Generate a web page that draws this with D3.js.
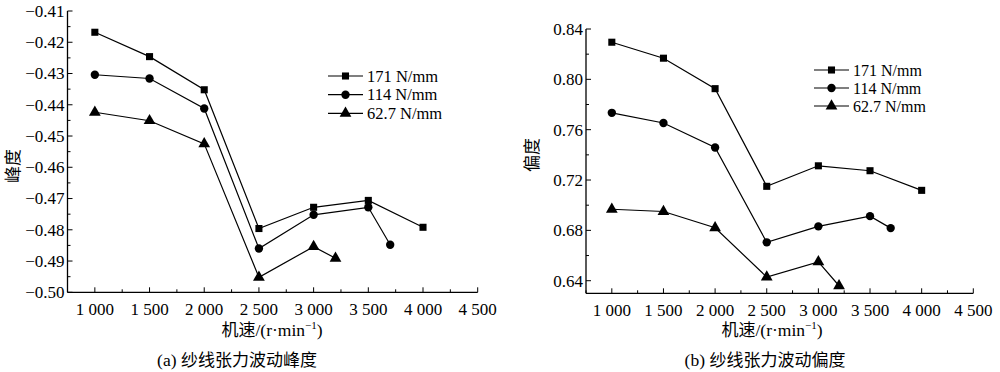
<!DOCTYPE html>
<html>
<head>
<meta charset="utf-8">
<script src="https://cdn.jsdelivr.net/npm/d3@7"></script>
<style>
  body { margin: 0; background: #fff; }
  text { font-family: "Liberation Serif", "Times New Roman", serif; }
  .cjk { font-family: "Noto Sans CJK SC", sans-serif; }
</style>
</head>
<body>
<div id="chart"></div>
<script>
// speeds (r/min) and series names
var seriesNames = ["171 N/mm", "114 N/mm", "62.7 N/mm"];
var xTicks = [1000, 1500, 2000, 2500, 3000, 3500, 4000, 4500];

// (a) kurtosis
var kurtX = [
  [1000, 1500, 2000, 2500, 3000, 3500, 4000],
  [1000, 1500, 2000, 2500, 3000, 3500, 3700],
  [1000, 1500, 2000, 2500, 3000, 3200]
];
var kurtY = [
  [-0.4168, -0.4246, -0.4352, -0.4796, -0.4728, -0.4706, -0.4792],
  [-0.4304, -0.4316, -0.4412, -0.4860, -0.4752, -0.4728, -0.4848],
  [-0.4424, -0.4451, -0.4525, -0.4952, -0.4854, -0.4891]
];
var kurtTicks = [-0.50, -0.49, -0.48, -0.47, -0.46, -0.45, -0.44, -0.43, -0.42, -0.41];

// (b) skewness
var skewX = kurtX;
var skewY = [
  [0.8295, 0.8168, 0.7926, 0.7150, 0.7313, 0.7274, 0.7118],
  [0.7734, 0.7653, 0.7458, 0.6705, 0.6832, 0.6913, 0.6818],
  [0.6968, 0.6950, 0.6821, 0.6429, 0.6550, 0.6360]
];
var skewTicks = [0.64, 0.68, 0.72, 0.76, 0.80, 0.84];

var svg = d3.select("#chart").append("svg")
  .attr("width", 1000)
  .attr("height", 372);

var symbols = [d3.symbolSquare, d3.symbolCircle, d3.symbolTriangle];
var symSize = [50, 55, 60];

function fmtX(d) {
  var s = String(d);
  return s.slice(0, s.length - 3) + " " + s.slice(-3);
}

function drawPanel(p) {
  var g = svg.append("g");

  var x = d3.scaleLinear().domain([750, 4500]).range([p.left, p.right]);
  var y = d3.scaleLinear().domain(p.yDomain).range([p.bottom, p.top]);

  // x axis, ticks pointing inward
  g.append("line")
    .attr("x1", p.left).attr("x2", p.right)
    .attr("y1", p.bottom).attr("y2", p.bottom)
    .attr("stroke", "#000").attr("stroke-width", 1.3);
  xTicks.forEach(function(t) {
    g.append("line")
      .attr("x1", x(t)).attr("x2", x(t))
      .attr("y1", p.bottom).attr("y2", p.bottom - 5)
      .attr("stroke", "#000");
    g.append("line")
      .attr("x1", x(t - 250)).attr("x2", x(t - 250))
      .attr("y1", p.bottom).attr("y2", p.bottom - 3)
      .attr("stroke", "#000");
    g.append("text")
      .attr("x", x(t)).attr("y", p.bottom + 23)
      .attr("text-anchor", "middle")
      .attr("font-size", 17)
      .text(fmtX(t));
  });

  // y axis
  g.append("line")
    .attr("x1", p.left).attr("x2", p.left)
    .attr("y1", y(p.yDomain[1])).attr("y2", p.bottom)
    .attr("stroke", "#000").attr("stroke-width", 1.3);
  p.yTicks.forEach(function(t, i) {
    g.append("line")
      .attr("x1", p.left).attr("x2", p.left + 5)
      .attr("y1", y(t)).attr("y2", y(t))
      .attr("stroke", "#000");
    if (i > 0) {
      var m = (t + p.yTicks[i - 1]) / 2;
      g.append("line")
        .attr("x1", p.left).attr("x2", p.left + 3)
        .attr("y1", y(m)).attr("y2", y(m))
        .attr("stroke", "#000");
    }
    g.append("text")
      .attr("x", p.left - 3).attr("y", y(t))
      .attr("dy", "0.35em")
      .attr("text-anchor", "end")
      .attr("font-size", 17)
      .text(p.yFmt(t));
  });
  if (p.extraMinor) {
    var mm = p.yTicks[0] - (p.yTicks[1] - p.yTicks[0]) / 2;
    if (mm >= p.yDomain[0]) {
      g.append("line")
        .attr("x1", p.left).attr("x2", p.left + 3)
        .attr("y1", y(mm)).attr("y2", y(mm))
        .attr("stroke", "#000");
    }
  }

  // series
  var line = d3.line()
    .x(function(d) { return x(d[0]); })
    .y(function(d) { return y(d[1]); });

  p.xs.forEach(function(xs, s) {
    var pts = xs.map(function(v, i) { return [v, p.ys[s][i]]; });
    g.append("path")
      .datum(pts)
      .attr("fill", "none")
      .attr("stroke", "#000")
      .attr("stroke-width", 1.2)
      .attr("d", line);
    g.selectAll(null)
      .data(pts)
      .enter()
      .append("path")
      .attr("transform", function(d) { return "translate(" + x(d[0]) + "," + y(d[1]) + ")"; })
      .attr("d", d3.symbol().type(symbols[s]).size(symSize[s]))
      .attr("fill", "#000");
  });

  // legend
  seriesNames.forEach(function(name, s) {
    var ly = p.legY + s * p.legDy;
    g.append("line")
      .attr("x1", p.legX).attr("x2", p.legX + 35)
      .attr("y1", ly).attr("y2", ly)
      .attr("stroke", "#000").attr("stroke-width", 1.2);
    g.append("path")
      .attr("transform", "translate(" + (p.legX + 17.5) + "," + ly + ")")
      .attr("d", d3.symbol().type(symbols[s]).size(symSize[s]))
      .attr("fill", "#000");
    g.append("text")
      .attr("x", p.legX + 39).attr("y", ly)
      .attr("dy", "0.35em")
      .attr("font-size", p.legFont)
      .text(name);
  });

  // axis titles
  g.append("text")
    .attr("transform", "translate(" + p.yLabX + "," + p.yLabY + ")rotate(-90)")
    .attr("text-anchor", "middle")
    .attr("class", "cjk")
    .attr("font-size", 17)
    .text(p.yLabel);

  var xl = g.append("text")
    .attr("x", p.xLabX).attr("y", 336)
    .attr("text-anchor", "middle")
    .attr("font-size", 17.5);
  xl.append("tspan").attr("class", "cjk").attr("font-size", 17).text("机速");
  xl.append("tspan").text("/(r·min");
  xl.append("tspan").attr("font-size", 11).attr("dy", -7).text("−1");
  xl.append("tspan").attr("dy", 7).text(")");

  var cap = g.append("text")
    .attr("x", p.capX).attr("y", 366)
    .attr("text-anchor", "middle")
    .attr("font-size", 17.5);
  cap.append("tspan").text(p.capTag + " ");
  cap.append("tspan").attr("class", "cjk").attr("font-size", 17).text(p.caption);
}

drawPanel({
  left: 67.5, right: 477.7, top: 11, bottom: 292.3,
  yDomain: [-0.50, -0.41], yTicks: kurtTicks,
  yFmt: function(d) { return d.toFixed(2).replace("-", "\u2212"); },
  xs: kurtX, ys: kurtY,
  legX: 328, legY: 76, legDy: 18.7, legFont: 16.5,
  yLabel: "峰度", yLabX: 19, yLabY: 166,
  xLabX: 272, capX: 237, capTag: "(a)", caption: "纱线张力波动峰度"
});

drawPanel({
  left: 586, right: 973.3, top: 29, bottom: 293.3,
  yDomain: [0.63, 0.84], yTicks: skewTicks,
  yFmt: function(d) { return d.toFixed(2); },
  xs: skewX, ys: skewY, extraMinor: true,
  legX: 814, legY: 70, legDy: 18, legFont: 16,
  yLabel: "偏度", yLabX: 538, yLabY: 155,
  xLabX: 772, capX: 765, capTag: "(b)", caption: "纱线张力波动偏度"
});
</script>
</body>
</html>
